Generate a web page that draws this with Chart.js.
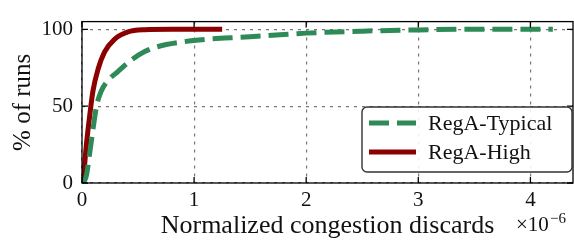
<!DOCTYPE html>
<html>
<head>
<meta charset="utf-8">
<script src="https://cdn.jsdelivr.net/npm/chart.js@4"></script>
<style>
  html, body { margin: 0; padding: 0; background: #fff; }
  #wrap { width: 574px; height: 242px; }
</style>
</head>
<body>
<div id="wrap"><canvas id="cdf"></canvas></div>
<script>
// x in units of 1e-6
const typicalX = [0, 0.02, 0.04, 0.07, 0.10, 0.13, 0.17, 0.23, 0.32, 0.44, 0.56, 0.68, 0.9, 1.1, 1.4, 1.6, 2.0, 2.5, 3.0, 3.5, 4.0, 4.2];
const typicalY = [0, 1, 5, 20, 36, 50, 59.5, 66.5, 72.5, 80, 85.5, 88.8, 91.8, 93.4, 94.8, 95.6, 97.5, 98.8, 99.6, 100, 100, 100];
const highX = [0, 0.018, 0.038, 0.069, 0.098, 0.143, 0.203, 0.29, 0.41, 0.56, 0.8, 1.0, 1.25];
const highY = [0, 8, 24, 44, 60, 74, 85.5, 93.5, 98.3, 99.7, 100, 100, 100];
const xTicks = [0, 1, 2, 3, 4];
const yTicks = [0, 50, 100];

const serif = "'Liberation Serif', serif";

function pts(xs, ys) {
    return xs.map((x, i) => ({ x: x, y: ys[i] }));
}

// frame, inward ticks, legend box, x10^-6 label
const decor = {
    id: 'decor',
    afterDraw(chart) {
        const ctx = chart.ctx;
        const a = chart.chartArea;
        const xs = chart.scales.x, ys = chart.scales.y;
        ctx.save();
        ctx.strokeStyle = '#000';
        ctx.lineWidth = 1.3;
        ctx.strokeRect(a.left, a.top, a.right - a.left, a.bottom - a.top);
        ctx.beginPath();
        xTicks.forEach(v => {
            const px = xs.getPixelForValue(v);
            ctx.moveTo(px, a.bottom); ctx.lineTo(px, a.bottom - 6);
            ctx.moveTo(px, a.top); ctx.lineTo(px, a.top + 6);
        });
        yTicks.forEach(v => {
            const py = ys.getPixelForValue(v);
            ctx.moveTo(a.left, py); ctx.lineTo(a.left + 6, py);
            ctx.moveTo(a.right, py); ctx.lineTo(a.right - 6, py);
        });
        ctx.stroke();

        // legend
        const bx = 362, by = 107, bw = 210, bh = 65;
        ctx.fillStyle = 'rgba(255,255,255,0.9)';
        ctx.strokeStyle = '#333';
        ctx.lineWidth = 1.4;
        ctx.beginPath();
        ctx.roundRect(bx, by, bw, bh, 5);
        ctx.fill();
        ctx.stroke();
        ctx.font = '22px ' + serif;
        ctx.textBaseline = 'middle';
        chart.data.datasets.forEach((ds, i) => {
            const y = by + 16 + i * 29;
            ctx.strokeStyle = ds.borderColor;
            ctx.lineWidth = 5;
            ctx.setLineDash(ds.borderDash || []);
            ctx.beginPath();
            ctx.moveTo(bx + 7, y);
            ctx.lineTo(bx + 54, y);
            ctx.stroke();
            ctx.setLineDash([]);
            ctx.fillStyle = '#111';
            ctx.fillText(ds.label, bx + 66, y + 1);
        });

        // exponent label
        ctx.fillStyle = '#111';
        ctx.textBaseline = 'alphabetic';
        ctx.font = '21px ' + serif;
        ctx.fillText('\u00d710', 516, 231);
        ctx.font = '15px ' + serif;
        ctx.fillText('\u22126', 550, 223);
        ctx.restore();
    }
};

new Chart(document.getElementById('cdf'), {
    type: 'line',
    data: {
        datasets: [{
            label: 'RegA-Typical',
            data: pts(typicalX, typicalY),
            borderColor: '#2e8b57',
            borderWidth: 5,
            borderDash: [20, 8],
            borderCapStyle: 'butt',
            pointRadius: 0,
            cubicInterpolationMode: 'monotone',
            fill: false
        }, {
            label: 'RegA-High',
            data: pts(highX, highY),
            borderColor: '#8b0000',
            borderWidth: 5,
            pointRadius: 0,
            cubicInterpolationMode: 'monotone',
            fill: false
        }]
    },
    options: {
        responsive: true,
        maintainAspectRatio: false,
        animation: false,
        layout: { padding: { top: 8, right: 1, left: 0, bottom: 0 } },
        plugins: { legend: { display: false }, tooltip: { enabled: false } },
        scales: {
            x: {
                type: 'linear',
                min: 0,
                max: 4.38,
                afterBuildTicks: axis => { axis.ticks = xTicks.map(v => ({ value: v })); },
                afterFit: axis => { axis.height = 59; },
                grid: { color: '#777', lineWidth: 1.2, drawTicks: false },
                border: { display: false, dash: [3, 5] },
                ticks: { color: '#111', padding: 5, font: { family: serif, size: 21 } },
                title: {
                    display: true,
                    text: 'Normalized congestion discards',
                    color: '#111',
                    font: { family: serif, size: 26 },
                    padding: { top: 0, bottom: 0 }
                }
            },
            y: {
                min: 0,
                max: 105,
                afterBuildTicks: axis => { axis.ticks = yTicks.map(v => ({ value: v })); },
                afterFit: axis => { axis.width = 82; },
                grid: { color: '#777', lineWidth: 1.2, drawTicks: false },
                border: { display: false, dash: [3, 5] },
                ticks: { color: '#111', padding: 9, font: { family: serif, size: 21 } },
                title: {
                    display: true,
                    text: '% of runs',
                    color: '#111',
                    font: { family: serif, size: 25 },
                    padding: { top: 8, bottom: 0 }
                }
            }
        }
    },
    plugins: [decor]
});
</script>
</body>
</html>
